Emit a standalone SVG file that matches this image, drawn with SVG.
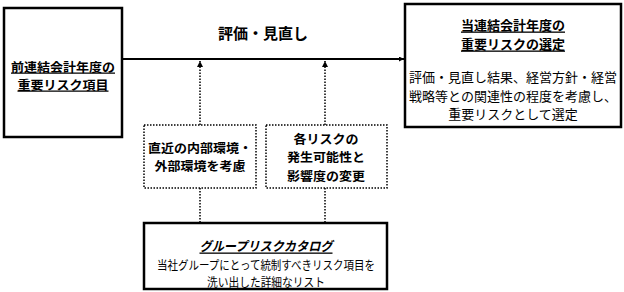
<svg xmlns="http://www.w3.org/2000/svg" width="624" height="292" viewBox="0 0 624 292">
<defs>
<marker id="ah" viewBox="0 0 10 10" refX="10" refY="5" markerWidth="5" markerHeight="5" orient="auto" markerUnits="userSpaceOnUse">
<path d="M0,0 L10,5 L0,10 z" fill="#000"/>
</marker>
<marker id="ahs" viewBox="0 0 10 10" refX="10" refY="5" markerWidth="6" markerHeight="6" orient="auto" markerUnits="userSpaceOnUse">
<path d="M0,0 L10,5 L0,10 z" fill="#000"/>
</marker>
</defs>
<style>
text{font-family:"Noto Sans CJK JP","Noto Sans CJK SC",sans-serif;fill:#000;text-anchor:middle;dominant-baseline:central}
.b{font-weight:bold}
.u{text-decoration:underline}
.solid{fill:#fff;stroke:#000;stroke-width:2.5}
.dot{fill:#fff;stroke:#000;stroke-width:1.5;stroke-dasharray:1.5 1.5}
.dl{fill:none;stroke:#000;stroke-width:1.5;stroke-dasharray:1.5 1.5}
.ml{fill:none;stroke:#000;stroke-width:2}
</style>
<g id="connectors">
<line class="ml" x1="123" y1="59" x2="404" y2="59" marker-end="url(#ah)"/>
<line class="dl" x1="200" y1="125" x2="200" y2="61" marker-end="url(#ahs)"/>
<line class="dl" x1="200" y1="188" x2="200" y2="223"/>
<line class="dl" x1="325" y1="125" x2="325" y2="61" marker-end="url(#ahs)"/>
<line class="dl" x1="325" y1="188" x2="325" y2="223"/>
</g>
<g id="label-review">
<text class="b" x="263" y="32" font-size="15">評価・見直し</text>
</g>
<g id="node-prev">
<rect class="solid" x="4" y="8" width="118" height="129"/>
<text class="b u" x="63" y="66" font-size="12.5" textLength="104" lengthAdjust="spacingAndGlyphs">前連結会計年度の</text>
<text class="b u" x="63" y="84" font-size="12.5" textLength="91" lengthAdjust="spacingAndGlyphs">重要リスク項目</text>
</g>
<g id="node-current">
<rect class="solid" x="405" y="4" width="216" height="123"/>
<text class="b u" x="513" y="24" font-size="13">当連結会計年度の</text>
<text class="b u" x="513" y="43" font-size="13">重要リスクの選定</text>
<text x="513" y="76" font-size="13">評価・見直し結果、経営方針・経営</text>
<text x="513" y="95" font-size="13">戦略等との関連性の程度を考慮し、</text>
<text x="513" y="113" font-size="13">重要リスクとして選定</text>
</g>
<g id="node-env">
<rect class="dot" x="144" y="125" width="112" height="63"/>
<text class="b" x="200" y="147" font-size="12.5" textLength="104" lengthAdjust="spacingAndGlyphs">直近の内部環境・</text>
<text class="b" x="200" y="165" font-size="12.5" textLength="91" lengthAdjust="spacingAndGlyphs">外部環境を考慮</text>
</g>
<g id="node-change">
<rect class="dot" x="266" y="125" width="121" height="63"/>
<text class="b" x="326" y="138" font-size="12.5" textLength="65" lengthAdjust="spacingAndGlyphs">各リスクの</text>
<text class="b" x="326" y="156.5" font-size="12.5" textLength="78" lengthAdjust="spacingAndGlyphs">発生可能性と</text>
<text class="b" x="326" y="175" font-size="12.5" textLength="78" lengthAdjust="spacingAndGlyphs">影響度の変更</text>
</g>
<g id="node-catalog">
<rect class="solid" x="144" y="223" width="243" height="66"/>
<text class="b u" x="266" y="245" font-size="13" font-style="italic" textLength="133" lengthAdjust="spacingAndGlyphs">グループリスクカタログ</text>
<text x="266" y="264" font-size="12" textLength="218" lengthAdjust="spacingAndGlyphs">当社グループにとって統制すべきリスク項目を</text>
<text x="266" y="281" font-size="12" textLength="118" lengthAdjust="spacingAndGlyphs">洗い出した詳細なリスト</text>
</g>
</svg>
